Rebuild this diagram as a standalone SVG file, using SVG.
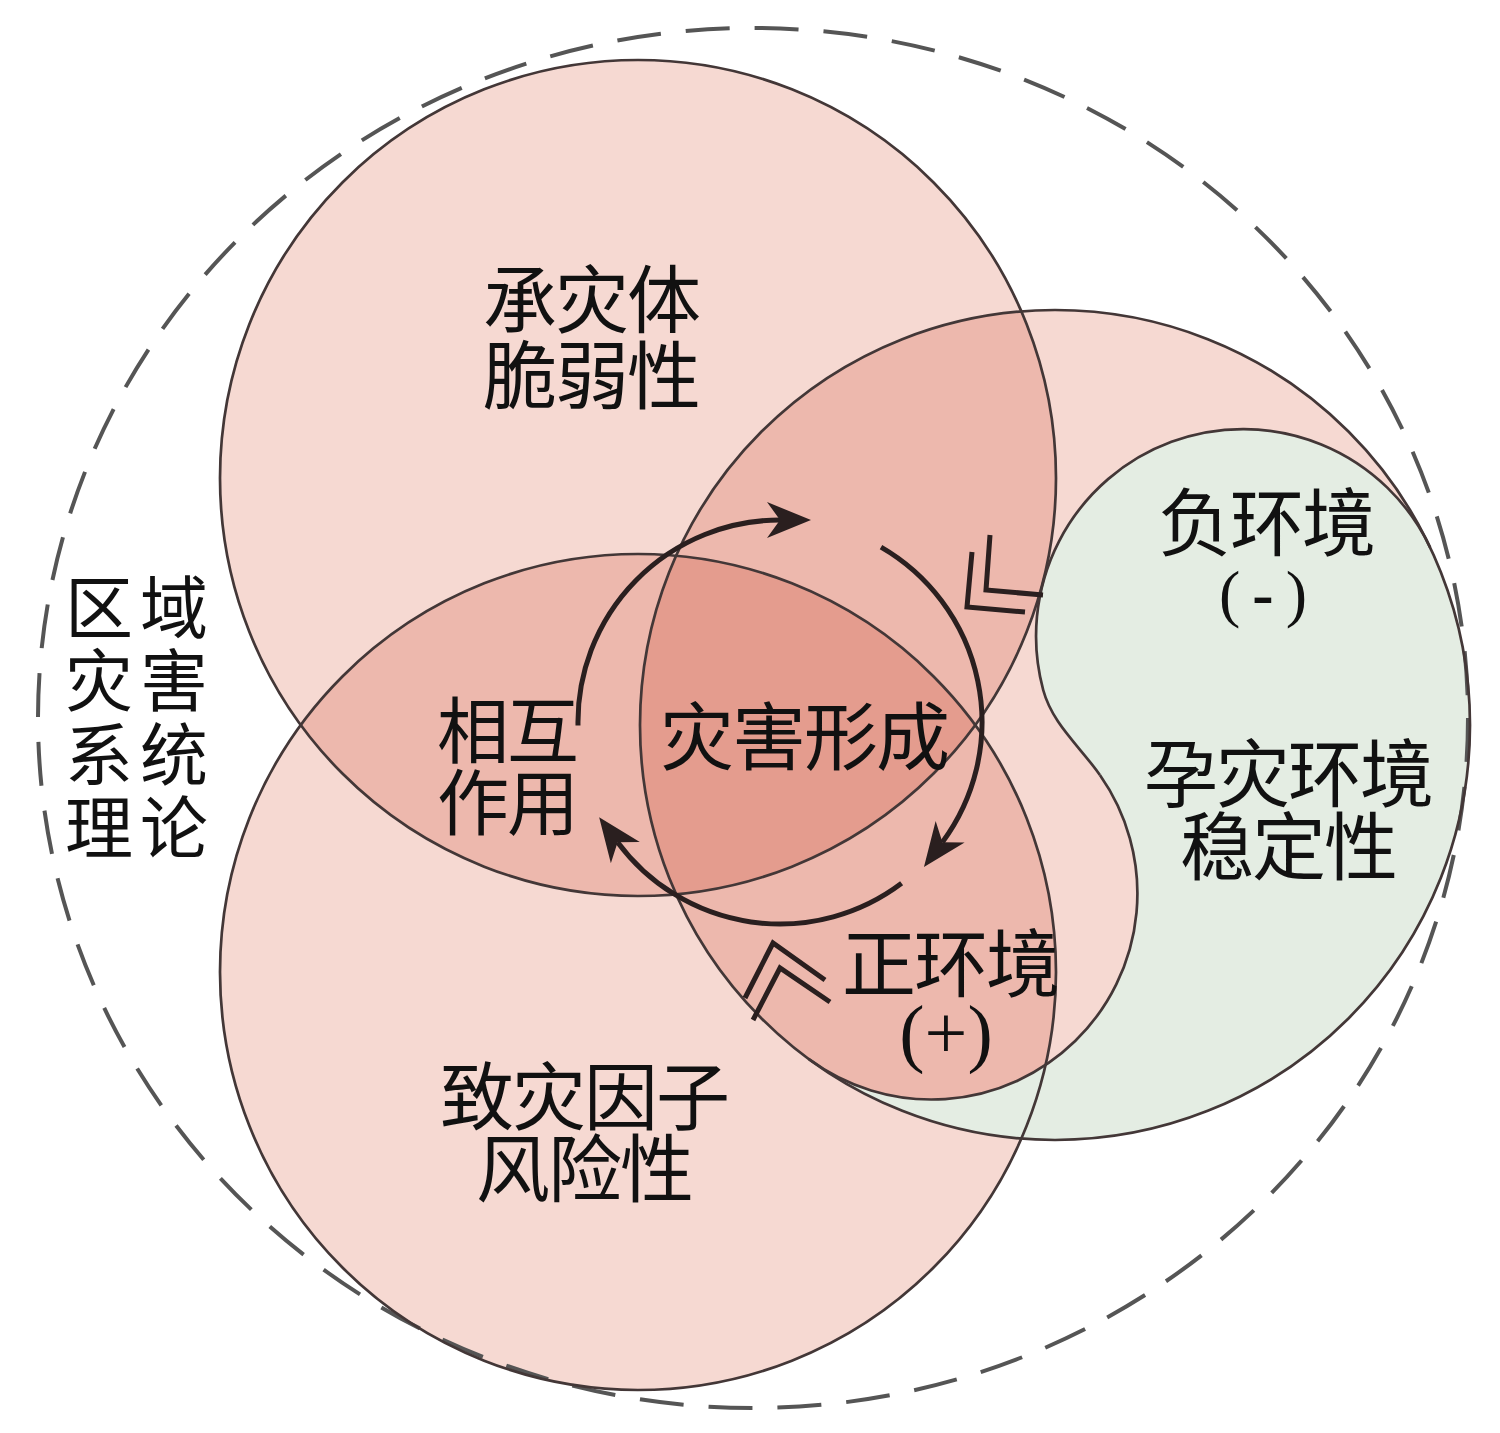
<svg xmlns="http://www.w3.org/2000/svg" width="1500" height="1433" viewBox="0 0 1500 1433">
<style>
.fillpk{fill:#f6d9d2;stroke:none;mix-blend-mode:multiply}
.ring{fill:none;stroke:#433737;stroke-width:2.7}
.cjk{font-family:"Noto Sans CJK SC","Noto Sans CJK TC",sans-serif;fill:#111;text-anchor:middle}
.lat{font-family:"Liberation Serif",serif}
.cyc{fill:none;stroke:#2a1f1f;stroke-width:5;marker-end:url(#ah)}
.chev{fill:none;stroke:#2a1f1f;stroke-width:5;stroke-linejoin:miter;stroke-linecap:butt}
</style>
<defs>
<marker id="ah" markerUnits="userSpaceOnUse" markerWidth="60" markerHeight="44" viewBox="0 -22 60 44" refX="13" refY="0" orient="auto">
<path d="M0,-18 L44,0 L0,18 L13,0 Z" fill="#2a1f1f"/>
</marker>
</defs>
<rect x="0" y="0" width="1500" height="1433" fill="#ffffff"/>
<g id="fills">
<circle class="fillpk" cx="638" cy="478" r="418"/>
<circle class="fillpk" cx="638" cy="972" r="418"/>
<circle class="fillpk" cx="1055" cy="725" r="415"/>
<path d="M1430.1,547.4 A207,207 0 0 0 1043.2,690 C1052.3,723.8 1079.9,746.3 1099.9,775 A206,206 0 0 1 808.6,1058.9 A415,415 0 0 0 1430.1,547.4 Z" fill="#e4ede3"/>
</g>
<g id="outer-system">
<ellipse cx="753" cy="718" rx="715" ry="690" fill="none" stroke="#555" stroke-width="4" stroke-dasharray="44 25"/>
<text class="cjk" font-size="68" letter-spacing="7"><tspan x="140" y="633">区域</tspan><tspan x="140" y="706">灾害</tspan><tspan x="140" y="780">系统</tspan><tspan x="140" y="853">理论</tspan></text>
</g>
<g id="node-vulnerability">
<circle class="ring" cx="638" cy="478" r="418"/>
<text class="cjk" font-size="74" letter-spacing="-2"><tspan x="591" y="326.5">承灾体</tspan><tspan x="591" y="402.5">脆弱性</tspan></text>
</g>
<g id="node-hazard">
<circle class="ring" cx="638" cy="972" r="418"/>
<text class="cjk" font-size="74" letter-spacing="-2"><tspan x="584" y="1124">致灾因子</tspan><tspan x="584" y="1196">风险性</tspan></text>
</g>
<g id="node-environment">
<circle class="ring" cx="1055" cy="725" r="415"/>
<text class="cjk" font-size="74" letter-spacing="-2"><tspan x="1288" y="801">孕灾环境</tspan><tspan x="1288" y="874">稳定性</tspan></text>
</g>
<g id="node-negative">
<path class="ring" d="M1430.1,547.4 A207,207 0 0 0 1043.2,690 C1052.3,723.8 1079.9,746.3 1099.9,775"/>
<text class="cjk" font-size="74" letter-spacing="-2"><tspan x="1266" y="550">负环境</tspan><tspan class="lat" x="1262" y="615" font-size="64">( <tspan font-weight="bold">-</tspan> )</tspan></text>
</g>
<g id="node-positive">
<path class="ring" d="M1099.9,775 A206,206 0 0 1 808.6,1058.9"/>
<text class="cjk" font-size="74" letter-spacing="-2"><tspan x="950" y="991">正环境</tspan><tspan class="lat" x="946" y="1058" font-size="76" letter-spacing="0">(+)</tspan></text>
</g>
<g id="node-interaction">
<text class="cjk" font-size="72" letter-spacing="-2"><tspan x="507" y="757">相互</tspan><tspan x="507" y="829">作用</tspan></text>
</g>
<g id="node-formation">
<text class="cjk" font-size="74" letter-spacing="-2" x="804" y="764">灾害形成</text>
</g>
<g id="connectors">
<path class="cyc" d="M578.0,725.5 A202,202 0 0 1 780,520"/>
<path class="cyc" d="M881,547.1 A202,202 0 0 1 942.4,842.2"/>
<path class="cyc" d="M901.6,883.3 A202,202 0 0 1 617.6,842.2"/>
<path class="chev" d="M972,552 L967,607 L1025,612"/>
<path class="chev" d="M990,535 L986,590 L1043,595"/>
<path class="chev" d="M745,998 L773,943 L825,980"/>
<path class="chev" d="M753,1020 L780,968 L830,1002"/>
</g>
</svg>
